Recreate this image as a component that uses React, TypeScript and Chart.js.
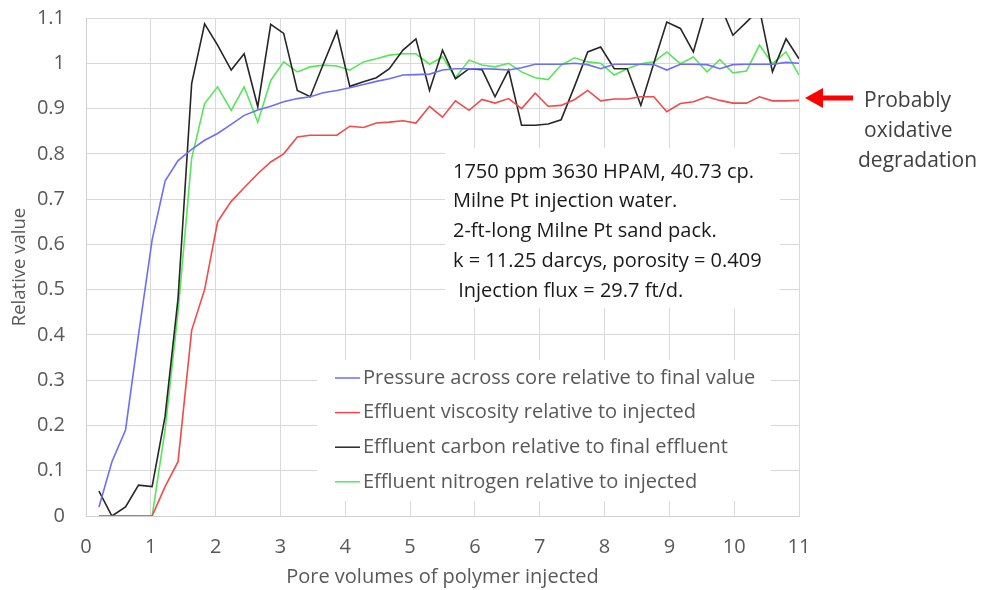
import { useEffect, useRef } from 'react';
import { Chart, registerables } from 'chart.js';

Chart.register(...registerables);

// Pore volumes of polymer injected (x position of every sample)
const xPoreVolumes = [0.20, 0.40, 0.61, 0.81, 1.02, 1.22, 1.42, 1.63, 1.83, 2.03, 2.24, 2.44, 2.65, 2.85, 3.05, 3.26, 3.46, 3.66, 3.87, 4.07, 4.28, 4.48, 4.68, 4.89, 5.09, 5.30, 5.50, 5.70, 5.91, 6.11, 6.31, 6.52, 6.72, 6.93, 7.13, 7.33, 7.54, 7.74, 7.94, 8.15, 8.35, 8.56, 8.76, 8.96, 9.17, 9.37, 9.58, 9.78, 9.98, 10.19, 10.39, 10.59, 10.80, 11.00];

const pressure = [0.02, 0.12, 0.19, 0.40, 0.61, 0.74, 0.785, 0.81, 0.83, 0.845, 0.865, 0.885, 0.897, 0.905, 0.915, 0.922, 0.926, 0.935, 0.94, 0.946, 0.953, 0.96, 0.966, 0.974, 0.975, 0.976, 0.985, 0.988, 0.988, 0.988, 0.987, 0.985, 0.99, 0.998, 0.998, 0.998, 1.0, 0.997, 0.988, 0.998, 0.998, 0.998, 0.997, 0.985, 0.998, 0.998, 0.997, 0.988, 0.997, 0.998, 0.998, 0.998, 1.002, 1.0];

const viscosity = [0, 0, 0, 0, 0, 0.065, 0.12, 0.41, 0.50, 0.65, 0.695, 0.725, 0.756, 0.782, 0.80, 0.837, 0.841, 0.841, 0.841, 0.861, 0.858, 0.868, 0.87, 0.873, 0.868, 0.905, 0.881, 0.917, 0.896, 0.92, 0.912, 0.922, 0.90, 0.934, 0.905, 0.907, 0.92, 0.94, 0.917, 0.921, 0.921, 0.926, 0.926, 0.893, 0.911, 0.915, 0.926, 0.918, 0.912, 0.912, 0.926, 0.917, 0.917, 0.918];

const carbon = [0.055, 0.0, 0.02, 0.068, 0.065, 0.22, 0.48, 0.955, 1.087, 1.04, 0.985, 1.021, 0.904, 1.086, 1.066, 0.94, 0.926, 0.998, 1.071, 0.949, 0.959, 0.968, 0.988, 1.029, 1.054, 0.94, 1.029, 0.966, 0.988, 0.986, 0.926, 0.985, 0.863, 0.863, 0.866, 0.875, 0.95, 1.025, 1.036, 0.988, 0.988, 0.907, 1.0, 1.091, 1.077, 1.025, 1.13, 1.13, 1.062, 1.091, 1.12, 0.981, 1.054, 1.01];

const nitrogen = [0, 0, 0, 0, 0, 0.19, 0.45, 0.79, 0.911, 0.948, 0.896, 0.948, 0.87, 0.962, 1.003, 0.981, 0.992, 0.996, 0.994, 0.985, 1.003, 1.01, 1.018, 1.021, 1.021, 0.998, 1.014, 0.968, 1.007, 0.996, 0.992, 1.0, 0.981, 0.968, 0.964, 0.996, 1.012, 1.003, 1.0, 0.974, 0.988, 0.999, 1.003, 1.025, 0.999, 1.014, 0.981, 1.008, 0.979, 0.983, 1.04, 0.999, 1.025, 0.974];

const seriesLabels = [
  'Pressure across core relative to final value',
  'Effluent viscosity relative to injected',
  'Effluent carbon relative to final effluent',
  'Effluent nitrogen relative to injected',
];
const seriesColors = ['#6e6ef5', '#f04a4a', '#262626', '#58e658'];

const annotationLines = [
  '1750 ppm 3630 HPAM, 40.73 cp.',
  'Milne Pt injection water.',
  '2-ft-long Milne Pt sand pack.',
  'k = 11.25 darcys, porosity = 0.409',
  ' Injection flux = 29.7 ft/d.',
];
const sideNoteLines = ['Probably', 'oxidative', 'degradation'];

const xTitle = 'Pore volumes of polymer injected';
const yTitle = 'Relative value';

const FONT = '"Open Sans", "DejaVu Sans", sans-serif';

const overlayPlugin = {
  id: 'overlay',
  beforeDatasetsDraw(chart: any) {
    const ctx = chart.ctx;
    ctx.save();
    ctx.fillStyle = '#ffffff';
    // annotation text box
    ctx.fillRect(445, 148, 335, 160);
    // legend box
    ctx.fillRect(317, 360, 454, 141);

    ctx.fillStyle = '#1a1a1a';
    ctx.font = `20px ${FONT}`;
    ctx.textAlign = 'left';
    ctx.textBaseline = 'middle';
    annotationLines.forEach((t, i) => ctx.fillText(t, 453, 172 + i * 29.7));

    // legend
    ctx.font = `20px ${FONT}`;
    chart.data.datasets.forEach((ds: any, i: number) => {
      const y = 378 + i * 34.6;
      ctx.strokeStyle = ds.borderColor;
      ctx.lineWidth = 1.5;
      ctx.beginPath();
      ctx.moveTo(335, y);
      ctx.lineTo(360, y);
      ctx.stroke();
      ctx.fillStyle = '#595959';
      ctx.fillText(ds.label, 363, y);
    });
    ctx.restore();
  },
  afterDraw(chart: any) {
    const ctx = chart.ctx;
    ctx.save();
    // red arrow
    ctx.fillStyle = '#ff0000';
    ctx.strokeStyle = '#ff0000';
    ctx.lineWidth = 5;
    ctx.beginPath();
    ctx.moveTo(818, 98);
    ctx.lineTo(853, 98);
    ctx.stroke();
    ctx.beginPath();
    ctx.moveTo(805, 98);
    ctx.lineTo(823, 88);
    ctx.lineTo(823, 108);
    ctx.closePath();
    ctx.fill();
    // side note
    ctx.fillStyle = '#404040';
    ctx.font = `21px ${FONT}`;
    ctx.textAlign = 'left';
    ctx.textBaseline = 'middle';
    sideNoteLines.forEach((t, i) => ctx.fillText(t, i === 2 ? 858 : 864, 101 + i * 30));
    ctx.restore();
  },
};

export default function App() {
  const canvasRef = useRef<HTMLCanvasElement | null>(null);

  useEffect(() => {
    if (!canvasRef.current) return;
    const allSeries = [pressure, viscosity, carbon, nitrogen];
    const chart = new Chart(canvasRef.current, {
      type: 'line',
      data: {
        datasets: allSeries.map((values, i) => ({
          label: seriesLabels[i],
          data: xPoreVolumes.map((x, j) => ({ x, y: values[j] })),
          borderColor: seriesColors[i],
          backgroundColor: seriesColors[i],
          borderWidth: 1.6,
          pointRadius: 0,
          tension: 0,
          fill: false,
        })),
      },
      options: {
        responsive: false,
        animation: false,
        devicePixelRatio: 1,
        layout: { padding: { top: 18, right: 186, left: 0, bottom: 0 } },
        plugins: {
          legend: { display: false },
          tooltip: { enabled: false },
        },
        scales: {
          x: {
            type: 'linear',
            min: 0,
            max: 11,
            afterFit: (scale: any) => {
              scale.height = 74;
              scale.paddingLeft = 0;
              scale.paddingRight = 0;
            },
            ticks: {
              stepSize: 1,
              color: '#595959',
              font: { family: FONT, size: 20 },
              padding: 19,
              maxRotation: 0,
            },
            grid: { color: '#d9d9d9', drawTicks: false },
            border: { color: '#d0d0d0' },
            title: {
              display: true,
              text: xTitle,
              color: '#595959',
              font: { family: FONT, size: 20 },
              padding: { top: 0, bottom: 1 },
            },
          },
          y: {
            min: 0,
            max: 1.1,
            afterFit: (scale: any) => {
              scale.width = 86;
              scale.paddingTop = 0;
              scale.paddingBottom = 0;
            },
            ticks: {
              stepSize: 0.1,
              color: '#595959',
              font: { family: FONT, size: 20 },
              padding: 21,
              callback: (v: any) => String(Number(Number(v).toFixed(1))),
            },
            grid: { color: '#d9d9d9', drawTicks: false },
            border: { color: '#d0d0d0' },
            title: {
              display: true,
              text: yTitle,
              color: '#595959',
              font: { family: FONT, size: 18.5 },
              padding: { top: 9, bottom: 0 },
            },
          },
        },
      },
      plugins: [overlayPlugin],
    });
    return () => chart.destroy();
  }, []);

  return (
    <div style={{ position: 'fixed', left: 0, top: 0, width: 985, height: 590, background: '#fff' }}>
      <canvas ref={canvasRef} width={985} height={590} />
    </div>
  );
}
